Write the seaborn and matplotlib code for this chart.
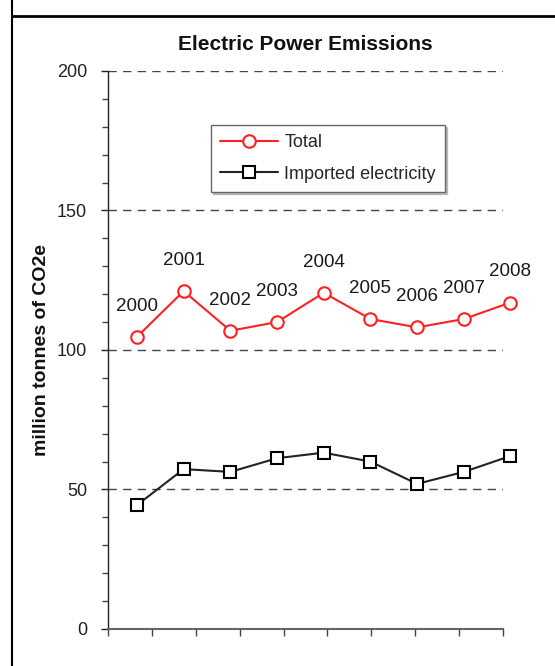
import numpy as np
import pandas as pd
import matplotlib
matplotlib.use("Agg")
import matplotlib.pyplot as plt
from matplotlib.lines import Line2D
from matplotlib.ticker import FixedLocator, MultipleLocator
import seaborn as sns

# data
years = ["2000", "2001", "2002", "2003", "2004", "2005", "2006", "2007", "2008"]
total = [104.7, 121.1, 106.9, 110.0, 120.5, 111.1, 108.1, 111.1, 117.0]
imported = [44.4, 57.3, 56.3, 61.2, 63.2, 60.0, 52.0, 56.3, 62.0]

df = pd.DataFrame({"pos": np.arange(len(years)), "year": years,
                   "Total": total, "Imported electricity": imported})

sns.set_theme(style="white")
plt.rcParams["font.family"] = ["Liberation Sans", "DejaVu Sans"]

fig = plt.figure(figsize=(5.55, 6.66), dpi=100)
ax = fig.add_axes([0.1946, 0.0556, 0.9063 - 0.1946, 0.8934 - 0.0556])

sns.lineplot(data=df, x="pos", y="Total", ax=ax, color="#ff2020", lw=1.5,
             marker="o", markersize=9, markerfacecolor="white",
             markeredgecolor="#ff2020", markeredgewidth=1.5,
             label="Total", clip_on=False, zorder=4)
sns.lineplot(data=df, x="pos", y="Imported electricity", ax=ax, color="#222222",
             lw=1.5, marker="s", markersize=8, markerfacecolor="white",
             markeredgecolor="black", markeredgewidth=1.5,
             label="Imported electricity", clip_on=False, zorder=4)

for x, y, yr in zip(df["pos"], total, years):
    ax.annotate(yr, (x, y), xytext=(0, 22), textcoords="offset points",
                ha="center", va="center", fontsize=13.5, color="#1a1a1a",
                annotation_clip=False)

xlim = (-0.62, 7.84)
ax.set_xlim(*xlim)
ax.set_ylim(0, 200)
ax.xaxis.set_major_locator(FixedLocator(np.linspace(xlim[0], xlim[1], 10)))
ax.set_xticklabels([])
ax.yaxis.set_major_locator(MultipleLocator(50))
ax.yaxis.set_minor_locator(MultipleLocator(10))
ax.tick_params(axis="y", which="major", left=True, length=5, width=1,
               color="#222222", labelsize=13, labelcolor="#222222", pad=10)
ax.tick_params(axis="y", which="minor", left=True, length=4, width=1, color="#444444")
ax.tick_params(axis="x", which="major", bottom=True, length=5, width=1, color="#444444")

ax.set_xlabel("")
ax.set_ylabel("million tonnes of CO2e", fontsize=14, fontweight="bold",
              color="#111111", labelpad=5)
ax.set_title("Electric Power Emissions", fontsize=15, fontweight="bold",
             color="#111111", pad=15)

ax.grid(axis="y", linestyle=(0, (6, 4.5)), color="#444444", lw=1.0)
ax.set_axisbelow(True)
for s in ["top", "right"]:
    ax.spines[s].set_visible(False)
ax.spines["left"].set_color("#222222")
ax.spines["left"].set_linewidth(1)
ax.spines["bottom"].set_color("#666666")
ax.spines["bottom"].set_linewidth(1.5)

leg = ax.legend(loc="upper left", bbox_to_anchor=(0.261, 0.903), borderaxespad=0,
                fontsize=13, frameon=True, fancybox=False,
                shadow={"color": "#999999", "alpha": 0.6, "ox": 1.5, "oy": -1.5},
                edgecolor="#666666", handlelength=3.2, labelspacing=0.8,
                borderpad=0.5, handletextpad=0.35)
leg.get_frame().set_linewidth(1)

# outer frame lines
fig.add_artist(Line2D([12 / 555, 12 / 555], [0, 1], color="black", lw=1.5))
fig.add_artist(Line2D([12 / 555, 1], [1 - 16 / 666, 1 - 16 / 666], color="black", lw=2))

fig.savefig("out.png", dpi=100)
